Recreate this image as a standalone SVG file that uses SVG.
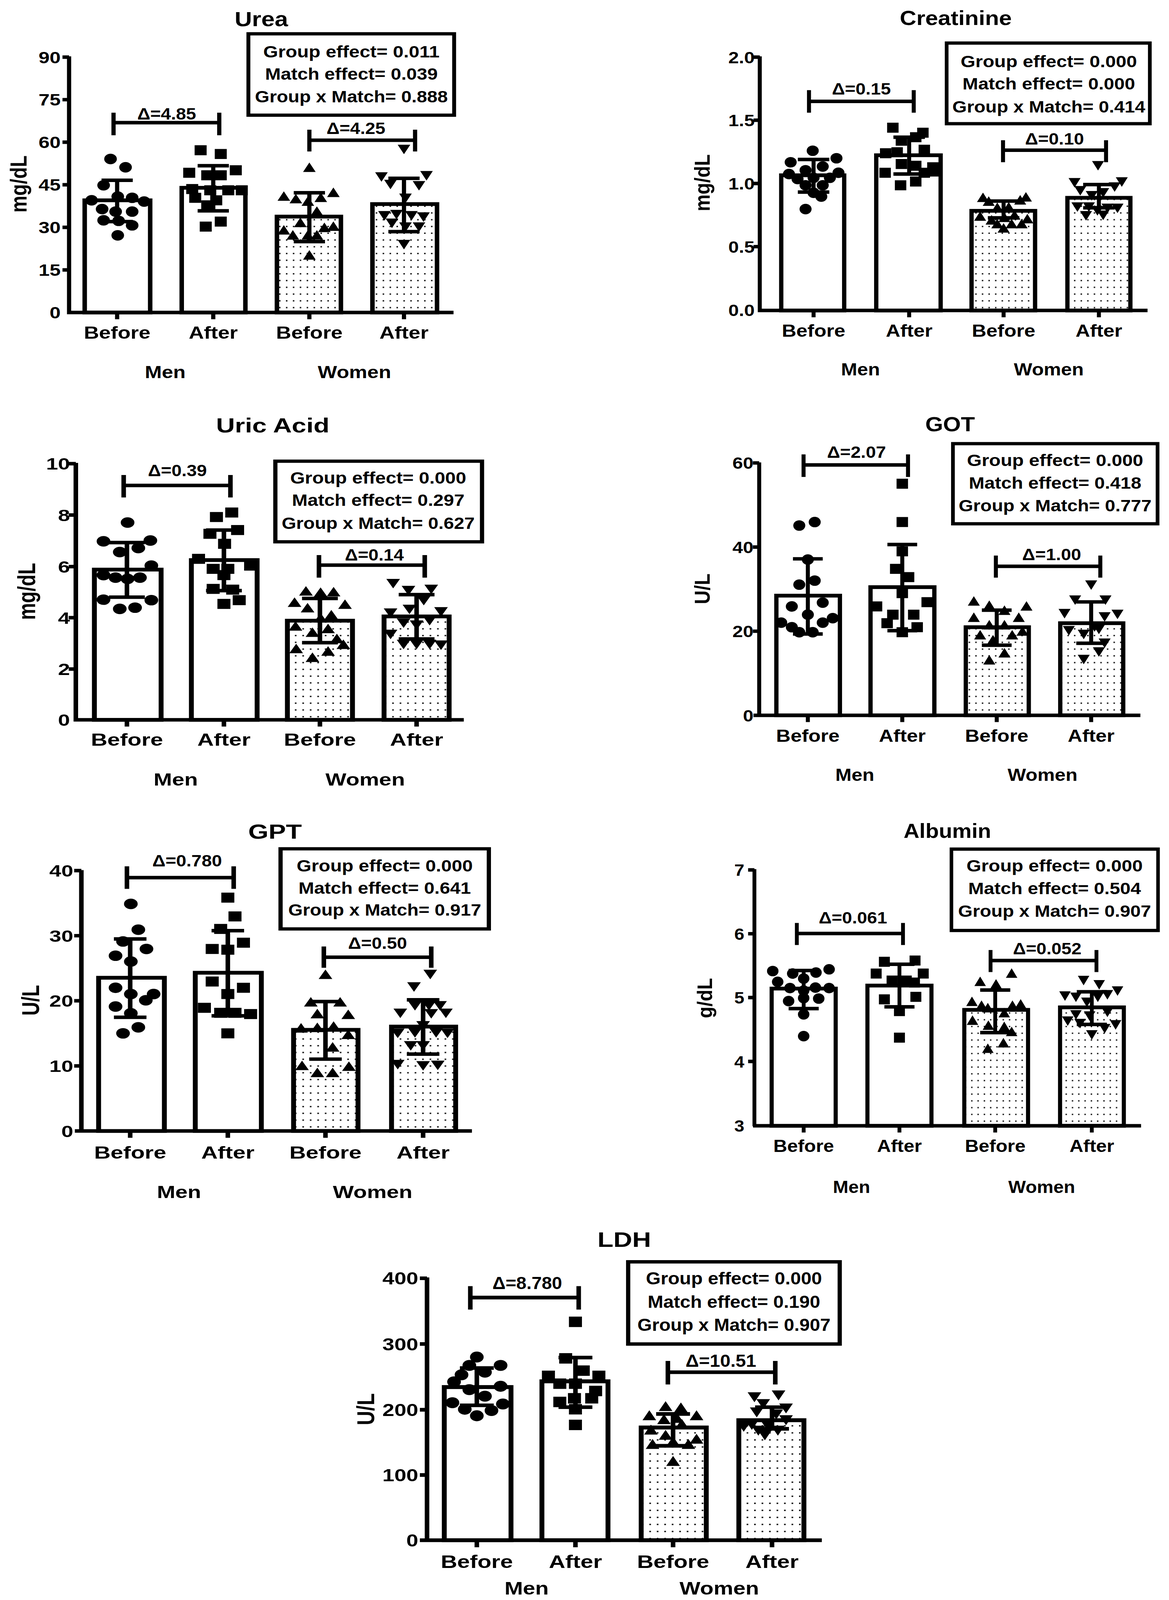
<svg xmlns="http://www.w3.org/2000/svg" width="2993" height="4142" viewBox="0 0 2993 4142">
<style>
.ax{stroke:#000;stroke-width:14;fill:none}
.bar{fill:#fff;stroke:#000;stroke-width:15}
.barw{fill:url(#dots);stroke:#000;stroke-width:15}
.er{stroke:#000;stroke-width:14;fill:none}
.box{fill:#fff;stroke:#000;stroke-width:13}
text{font-family:"Liberation Sans",Arial,sans-serif;font-weight:bold;fill:#000}
.ti{font-size:80px;text-anchor:middle}
.tk{font-size:66px;text-anchor:end}
.xl{font-size:70px;text-anchor:middle}
.gl{font-size:68px;text-anchor:middle}
.bx{font-size:66px;text-anchor:middle}
.dl{font-size:66px;text-anchor:middle}
.yl{font-size:76px;text-anchor:middle}
</style>
<defs>
<pattern id="dots" patternUnits="userSpaceOnUse" width="23" height="27"><rect x="9" y="11" width="5" height="5" fill="#000"/></pattern>
<circle id="c" r="21" fill="#000"/>
<rect id="s" x="-20" y="-20" width="40" height="40" fill="#000"/>
<path id="tu" d="M0,-21 L21,17 L-21,17Z" fill="#000"/>
<path id="td" d="M0,21 L21,-17 L-21,-17Z" fill="#000"/>
</defs>
<rect width="2993" height="4142" fill="#fff"/>

<g id="urea" transform="translate(0,0) scale(0.769,0.641)">
<text class="ti" x="870" y="105">Urea</text>
<path class="ax" d="M230,225V1248M223,1248H1510M208,228H230M208,398H230M208,568H230M208,738H230M208,908H230M208,1078H230M390,1248V1275M710,1248V1275M1030,1248V1275M1345,1248V1275"/>
<text class="tk" x="202" y="252">90</text><text class="tk" x="202" y="422">75</text><text class="tk" x="202" y="592">60</text><text class="tk" x="202" y="762">45</text><text class="tk" x="202" y="932">30</text><text class="tk" x="202" y="1102">15</text><text class="tk" x="202" y="1272">0</text>
<text class="yl" transform="translate(88,735) rotate(-90)">mg/dL</text>
<rect class="bar" x="282" y="800" width="218" height="448"/><rect class="bar" x="605" y="750" width="212" height="498"/><rect class="barw" x="922" y="865" width="213" height="383"/><rect class="barw" x="1240" y="815" width="215" height="433"/>
<g><use href="#c" x="368" y="635"/><use href="#c" x="418" y="668"/><use href="#c" x="345" y="740"/><use href="#c" x="392" y="785"/><use href="#c" x="305" y="800"/><use href="#c" x="440" y="790"/><use href="#c" x="480" y="805"/><use href="#c" x="340" y="835"/><use href="#c" x="385" y="845"/><use href="#c" x="440" y="845"/><use href="#c" x="345" y="880"/><use href="#c" x="395" y="882"/><use href="#c" x="440" y="900"/><use href="#c" x="392" y="940"/>
<use href="#s" x="668" y="600"/><use href="#s" x="735" y="615"/><use href="#s" x="630" y="690"/><use href="#s" x="690" y="700"/><use href="#s" x="735" y="700"/><use href="#s" x="785" y="680"/><use href="#s" x="640" y="755"/><use href="#s" x="700" y="760"/><use href="#s" x="760" y="760"/><use href="#s" x="805" y="760"/><use href="#s" x="650" y="790"/><use href="#s" x="720" y="800"/><use href="#s" x="690" y="820"/><use href="#s" x="735" y="885"/><use href="#s" x="685" y="905"/>
<use href="#tu" x="1030" y="670"/><use href="#tu" x="945" y="785"/><use href="#tu" x="985" y="795"/><use href="#tu" x="1025" y="805"/><use href="#tu" x="1068" y="790"/><use href="#tu" x="1110" y="770"/><use href="#tu" x="1055" y="845"/><use href="#tu" x="1000" y="890"/><use href="#tu" x="945" y="920"/><use href="#tu" x="975" y="940"/><use href="#tu" x="1025" y="940"/><use href="#tu" x="1080" y="910"/><use href="#tu" x="1110" y="905"/><use href="#tu" x="1055" y="940"/><use href="#tu" x="1030" y="1020"/>
<use href="#td" x="1345" y="595"/><use href="#td" x="1270" y="705"/><use href="#td" x="1420" y="700"/><use href="#td" x="1300" y="735"/><use href="#td" x="1395" y="740"/><use href="#td" x="1350" y="790"/><use href="#td" x="1280" y="860"/><use href="#td" x="1320" y="855"/><use href="#td" x="1370" y="860"/><use href="#td" x="1410" y="865"/><use href="#td" x="1305" y="890"/><use href="#td" x="1350" y="905"/><use href="#td" x="1395" y="905"/><use href="#td" x="1345" y="975"/></g>
<path class="er" d="M390,720V885M338,720H442M338,885H442M710,662V842M658,662H762M658,842H762M1030,770V965M978,770H1082M978,965H1082M1345,712V925M1293,712H1397M1293,925H1397"/>
<path class="er" d="M378,490H730M378,450V540M730,450V540M1030,560H1382M1030,518V605M1382,518V605"/>
<text class="dl" x="555" y="478" textLength="196" lengthAdjust="spacingAndGlyphs">Δ=4.85</text><text class="dl" x="1185" y="535" textLength="196" lengthAdjust="spacingAndGlyphs">Δ=4.25</text>
<rect class="box" x="827" y="135" width="685" height="325"/>
<text class="bx" x="1170" y="230" textLength="587" lengthAdjust="spacingAndGlyphs">Group effect= 0.011</text><text class="bx" x="1170" y="318" textLength="575" lengthAdjust="spacingAndGlyphs">Match effect= 0.039</text><text class="bx" x="1170" y="408" textLength="642" lengthAdjust="spacingAndGlyphs">Group x Match= 0.888</text>
<text class="xl" x="390" y="1352">Before</text><text class="xl" x="710" y="1352">After</text><text class="xl" x="1030" y="1352">Before</text><text class="xl" x="1345" y="1352">After</text>
<text class="gl" x="550" y="1510">Men</text><text class="gl" x="1180" y="1510">Women</text>
</g>

<g id="creatinine" transform="translate(1850,0) scale(0.7327,0.641)">
<text class="ti" x="815" y="100">Creatinine</text>
<path class="ax" d="M130,225V1240M123,1240H1485M108,228H130M108,480H130M108,733H130M108,985H130M318,1240V1267M652,1240V1267M982,1240V1267M1315,1240V1267"/>
<text class="tk" x="112" y="252">2.0</text><text class="tk" x="112" y="504">1.5</text><text class="tk" x="112" y="757">1.0</text><text class="tk" x="112" y="1009">0.5</text><text class="tk" x="112" y="1262">0.0</text>
<text class="yl" transform="translate(-45,730) rotate(-90)">mg/dL</text>
<rect class="bar" x="205" y="700" width="220" height="540"/><rect class="bar" x="537" y="620" width="225" height="620"/><rect class="barw" x="870" y="842" width="222" height="398"/><rect class="barw" x="1205" y="790" width="220" height="450"/>
<g><use href="#c" x="315" y="602"/><use href="#c" x="238" y="648"/><use href="#c" x="290" y="680"/><use href="#c" x="350" y="665"/><use href="#c" x="398" y="632"/><use href="#c" x="232" y="695"/><use href="#c" x="262" y="715"/><use href="#c" x="318" y="710"/><use href="#c" x="375" y="710"/><use href="#c" x="405" y="690"/><use href="#c" x="290" y="740"/><use href="#c" x="350" y="740"/><use href="#c" x="318" y="770"/><use href="#c" x="345" y="785"/><use href="#c" x="290" y="835"/>
<use href="#s" x="595" y="510"/><use href="#s" x="700" y="530"/><use href="#s" x="625" y="562"/><use href="#s" x="675" y="548"/><use href="#s" x="570" y="612"/><use href="#s" x="610" y="608"/><use href="#s" x="705" y="598"/><use href="#s" x="625" y="655"/><use href="#s" x="675" y="662"/><use href="#s" x="735" y="668"/><use href="#s" x="568" y="690"/><use href="#s" x="705" y="690"/><use href="#s" x="735" y="685"/><use href="#s" x="675" y="725"/><use href="#s" x="622" y="740"/>
<use href="#tu" x="910" y="790"/><use href="#tu" x="1060" y="788"/><use href="#tu" x="930" y="805"/><use href="#tu" x="1040" y="800"/><use href="#tu" x="960" y="830"/><use href="#tu" x="1000" y="828"/><use href="#tu" x="900" y="865"/><use href="#tu" x="940" y="880"/><use href="#tu" x="985" y="870"/><use href="#tu" x="1020" y="860"/><use href="#tu" x="1065" y="875"/><use href="#tu" x="960" y="895"/><use href="#tu" x="1010" y="895"/><use href="#tu" x="1045" y="895"/><use href="#tu" x="982" y="912"/>
<use href="#td" x="1312" y="660"/><use href="#td" x="1230" y="728"/><use href="#td" x="1395" y="725"/><use href="#td" x="1250" y="760"/><use href="#td" x="1370" y="745"/><use href="#td" x="1330" y="768"/><use href="#td" x="1290" y="780"/><use href="#td" x="1240" y="825"/><use href="#td" x="1280" y="825"/><use href="#td" x="1310" y="840"/><use href="#td" x="1345" y="830"/><use href="#td" x="1380" y="830"/><use href="#td" x="1270" y="860"/><use href="#td" x="1330" y="858"/></g>
<path class="er" d="M318,637V767M263,637H373M263,767H373M652,548V695M597,548H707M597,695H707M982,803V870M927,803H1037M927,870H1037M1315,737V830M1260,737H1370M1260,830H1370"/>
<path class="er" d="M302,405H668M302,360V450M668,360V450M980,600H1340M980,560V648M1340,560V648"/>
<text class="dl" x="485" y="378" textLength="206" lengthAdjust="spacingAndGlyphs">Δ=0.15</text><text class="dl" x="1160" y="578" textLength="206" lengthAdjust="spacingAndGlyphs">Δ=0.10</text>
<rect class="box" x="783" y="172" width="710" height="322"/>
<text class="bx" x="1140" y="268" textLength="616" lengthAdjust="spacingAndGlyphs">Group effect= 0.000</text><text class="bx" x="1140" y="358" textLength="603" lengthAdjust="spacingAndGlyphs">Match effect= 0.000</text><text class="bx" x="1140" y="450" textLength="674" lengthAdjust="spacingAndGlyphs">Group x Match= 0.414</text>
<text class="xl" x="318" y="1345">Before</text><text class="xl" x="652" y="1345">After</text><text class="xl" x="982" y="1345">Before</text><text class="xl" x="1315" y="1345">After</text>
<text class="gl" x="482" y="1500">Men</text><text class="gl" x="1140" y="1500">Women</text>
</g>

<g id="uric-acid" transform="translate(0,1030) scale(0.8333,0.641)">
<text class="ti" x="838" y="120">Uric Acid</text>
<path class="ax" d="M233,242V1270M226,1268H1425M211,245H233M211,450H233M211,656H233M211,860H233M211,1065H233M390,1268V1295M688,1268V1295M983,1268V1295M1280,1268V1295"/>
<text class="tk" x="215" y="269">10</text><text class="tk" x="215" y="474">8</text><text class="tk" x="215" y="680">6</text><text class="tk" x="215" y="884">4</text><text class="tk" x="215" y="1089">2</text><text class="tk" x="215" y="1292">0</text>
<text class="yl" transform="translate(108,755) rotate(-90)">mg/dL</text>
<rect class="bar" x="290" y="668" width="205" height="600"/><rect class="bar" x="588" y="630" width="202" height="638"/><rect class="barw" x="883" y="872" width="200" height="396"/><rect class="barw" x="1180" y="855" width="200" height="413"/>
<g><use href="#c" x="392" y="480"/><use href="#c" x="318" y="555"/><use href="#c" x="462" y="552"/><use href="#c" x="368" y="598"/><use href="#c" x="425" y="582"/><use href="#c" x="465" y="652"/><use href="#c" x="318" y="690"/><use href="#c" x="355" y="700"/><use href="#c" x="392" y="705"/><use href="#c" x="430" y="700"/><use href="#c" x="318" y="788"/><use href="#c" x="465" y="790"/><use href="#c" x="368" y="825"/><use href="#c" x="415" y="820"/>
<use href="#s" x="712" y="440"/><use href="#s" x="665" y="458"/><use href="#s" x="730" y="510"/><use href="#s" x="645" y="525"/><use href="#s" x="690" y="565"/><use href="#s" x="610" y="625"/><use href="#s" x="655" y="665"/><use href="#s" x="700" y="665"/><use href="#s" x="770" y="652"/><use href="#s" x="688" y="690"/><use href="#s" x="655" y="745"/><use href="#s" x="715" y="748"/><use href="#s" x="735" y="790"/><use href="#s" x="688" y="805"/>
<use href="#tu" x="940" y="755"/><use href="#tu" x="985" y="760"/><use href="#tu" x="1025" y="758"/><use href="#tu" x="905" y="800"/><use href="#tu" x="1060" y="808"/><use href="#tu" x="945" y="822"/><use href="#tu" x="1018" y="850"/><use href="#tu" x="985" y="862"/><use href="#tu" x="908" y="895"/><use href="#tu" x="1008" y="905"/><use href="#tu" x="960" y="920"/><use href="#tu" x="1035" y="945"/><use href="#tu" x="1055" y="968"/><use href="#tu" x="910" y="985"/><use href="#tu" x="1008" y="995"/><use href="#tu" x="960" y="1020"/>
<use href="#td" x="1208" y="722"/><use href="#td" x="1255" y="750"/><use href="#td" x="1325" y="745"/><use href="#td" x="1302" y="790"/><use href="#td" x="1258" y="825"/><use href="#td" x="1200" y="840"/><use href="#td" x="1355" y="835"/><use href="#td" x="1240" y="880"/><use href="#td" x="1320" y="870"/><use href="#td" x="1280" y="888"/><use href="#td" x="1200" y="925"/><use href="#td" x="1240" y="965"/><use href="#td" x="1280" y="965"/><use href="#td" x="1320" y="965"/><use href="#td" x="1355" y="968"/></g>
<path class="er" d="M390,560V778M335,560H445M335,778H445M688,510V752M633,510H743M633,752H743M983,783V960M928,783H1038M928,960H1038M1280,768V945M1225,768H1335M1225,945H1335"/>
<path class="er" d="M380,332H708M380,290V380M708,290V380M980,650H1305M980,610V700M1305,610V700"/>
<text class="dl" x="545" y="295" textLength="181" lengthAdjust="spacingAndGlyphs">Δ=0.39</text><text class="dl" x="1150" y="632" textLength="181" lengthAdjust="spacingAndGlyphs">Δ=0.14</text>
<rect class="box" x="846" y="235" width="635" height="322"/>
<text class="bx" x="1162" y="325" textLength="541" lengthAdjust="spacingAndGlyphs">Group effect= 0.000</text><text class="bx" x="1162" y="413" textLength="530" lengthAdjust="spacingAndGlyphs">Match effect= 0.297</text><text class="bx" x="1162" y="505" textLength="593" lengthAdjust="spacingAndGlyphs">Group x Match= 0.627</text>
<text class="xl" x="390" y="1372">Before</text><text class="xl" x="688" y="1372">After</text><text class="xl" x="983" y="1372">Before</text><text class="xl" x="1280" y="1372">After</text>
<text class="gl" x="540" y="1530">Men</text><text class="gl" x="1122" y="1530">Women</text>
</g>

<g id="got" transform="translate(1850,1030) scale(0.7327,0.641)">
<text class="ti" x="795" y="115">GOT</text>
<path class="ax" d="M128,240V1250M108,1250H1460M106,242H128M106,578H128M106,914H128M298,1250V1277M628,1250V1277M958,1250V1277M1288,1250V1277"/>
<text class="tk" x="108" y="266">60</text><text class="tk" x="108" y="602">40</text><text class="tk" x="108" y="938">20</text><text class="tk" x="108" y="1274">0</text>
<text class="yl" transform="translate(-45,745) rotate(-90)">U/L</text>
<rect class="bar" x="188" y="772" width="222" height="478"/><rect class="bar" x="517" y="738" width="223" height="512"/><rect class="barw" x="850" y="898" width="220" height="352"/><rect class="barw" x="1180" y="882" width="220" height="368"/>
<g><use href="#c" x="268" y="492"/><use href="#c" x="322" y="478"/><use href="#c" x="298" y="628"/><use href="#c" x="268" y="728"/><use href="#c" x="322" y="712"/><use href="#c" x="242" y="815"/><use href="#c" x="350" y="800"/><use href="#c" x="298" y="848"/><use href="#c" x="205" y="880"/><use href="#c" x="385" y="862"/><use href="#c" x="242" y="898"/><use href="#c" x="350" y="880"/><use href="#c" x="268" y="918"/><use href="#c" x="315" y="918"/>
<use href="#s" x="628" y="325"/><use href="#s" x="628" y="478"/><use href="#s" x="628" y="595"/><use href="#s" x="605" y="665"/><use href="#s" x="650" y="698"/><use href="#s" x="628" y="762"/><use href="#s" x="538" y="815"/><use href="#s" x="715" y="798"/><use href="#s" x="595" y="848"/><use href="#s" x="668" y="848"/><use href="#s" x="575" y="882"/><use href="#s" x="680" y="898"/><use href="#s" x="628" y="918"/>
<use href="#tu" x="878" y="795"/><use href="#tu" x="932" y="812"/><use href="#tu" x="985" y="832"/><use href="#tu" x="1062" y="815"/><use href="#tu" x="878" y="860"/><use href="#tu" x="1035" y="860"/><use href="#tu" x="932" y="890"/><use href="#tu" x="985" y="890"/><use href="#tu" x="900" y="930"/><use href="#tu" x="1012" y="930"/><use href="#tu" x="1048" y="915"/><use href="#tu" x="945" y="950"/><use href="#tu" x="985" y="1002"/><use href="#tu" x="932" y="1030"/>
<use href="#td" x="1288" y="728"/><use href="#td" x="1232" y="788"/><use href="#td" x="1338" y="788"/><use href="#td" x="1195" y="842"/><use href="#td" x="1380" y="845"/><use href="#td" x="1335" y="855"/><use href="#td" x="1210" y="910"/><use href="#td" x="1315" y="905"/><use href="#td" x="1262" y="925"/><use href="#td" x="1300" y="895"/><use href="#td" x="1335" y="960"/><use href="#td" x="1315" y="995"/><use href="#td" x="1262" y="1025"/></g>
<path class="er" d="M298,625V925M246,625H350M246,925H350M628,568V912M576,568H680M576,912H680M958,830V970M906,830H1010M906,970H1010M1288,797V962M1236,797H1340M1236,962H1340"/>
<path class="er" d="M283,250H648M283,208V298M648,208V298M955,655H1320M955,612V700M1320,612V700"/>
<text class="dl" x="468" y="222" textLength="206" lengthAdjust="spacingAndGlyphs">Δ=2.07</text><text class="dl" x="1150" y="630" textLength="206" lengthAdjust="spacingAndGlyphs">Δ=1.00</text>
<rect class="box" x="805" y="165" width="715" height="320"/>
<text class="bx" x="1162" y="255" textLength="616" lengthAdjust="spacingAndGlyphs">Group effect= 0.000</text><text class="bx" x="1162" y="345" textLength="603" lengthAdjust="spacingAndGlyphs">Match effect= 0.418</text><text class="bx" x="1162" y="435" textLength="674" lengthAdjust="spacingAndGlyphs">Group x Match= 0.777</text>
<text class="xl" x="298" y="1355">Before</text><text class="xl" x="628" y="1355">After</text><text class="xl" x="958" y="1355">Before</text><text class="xl" x="1288" y="1355">After</text>
<text class="gl" x="462" y="1512">Men</text><text class="gl" x="1118" y="1512">Women</text>
</g>

<g id="gpt" transform="translate(0,2080) scale(0.8333,0.641)">
<text class="ti" x="845" y="105">GPT</text>
<path class="ax" d="M250,230V1272M230,1272H1450M228,232H250M228,492H250M228,752H250M228,1012H250M400,1272V1299M700,1272V1299M1000,1272V1299M1300,1272V1299"/>
<text class="tk" x="225" y="256">40</text><text class="tk" x="225" y="516">30</text><text class="tk" x="225" y="776">20</text><text class="tk" x="225" y="1036">10</text><text class="tk" x="225" y="1296">0</text>
<text class="yl" transform="translate(120,750) rotate(-90)">U/L</text>
<rect class="bar" x="303" y="660" width="202" height="612"/><rect class="bar" x="600" y="640" width="203" height="632"/><rect class="barw" x="902" y="868" width="198" height="404"/><rect class="barw" x="1203" y="855" width="197" height="417"/>
<g><use href="#c" x="402" y="365"/><use href="#c" x="425" y="468"/><use href="#c" x="378" y="515"/><use href="#c" x="450" y="545"/><use href="#c" x="355" y="572"/><use href="#c" x="402" y="595"/><use href="#c" x="355" y="700"/><use href="#c" x="402" y="725"/><use href="#c" x="448" y="750"/><use href="#c" x="472" y="725"/><use href="#c" x="355" y="775"/><use href="#c" x="402" y="802"/><use href="#c" x="425" y="858"/><use href="#c" x="378" y="882"/>
<use href="#s" x="700" y="340"/><use href="#s" x="722" y="415"/><use href="#s" x="678" y="465"/><use href="#s" x="652" y="545"/><use href="#s" x="748" y="520"/><use href="#s" x="700" y="548"/><use href="#s" x="652" y="675"/><use href="#s" x="748" y="700"/><use href="#s" x="700" y="725"/><use href="#s" x="628" y="780"/><use href="#s" x="678" y="800"/><use href="#s" x="722" y="800"/><use href="#s" x="770" y="805"/><use href="#s" x="700" y="882"/>
<use href="#tu" x="1000" y="648"/><use href="#tu" x="955" y="758"/><use href="#tu" x="1045" y="758"/><use href="#tu" x="975" y="805"/><use href="#tu" x="1070" y="808"/><use href="#tu" x="925" y="862"/><use href="#tu" x="975" y="860"/><use href="#tu" x="1025" y="855"/><use href="#tu" x="1070" y="888"/><use href="#tu" x="1022" y="938"/><use href="#tu" x="928" y="1012"/><use href="#tu" x="1072" y="1015"/><use href="#tu" x="975" y="1040"/><use href="#tu" x="1022" y="1040"/>
<use href="#td" x="1322" y="645"/><use href="#td" x="1272" y="695"/><use href="#td" x="1230" y="800"/><use href="#td" x="1275" y="770"/><use href="#td" x="1318" y="770"/><use href="#td" x="1352" y="770"/><use href="#td" x="1370" y="800"/><use href="#td" x="1325" y="802"/><use href="#td" x="1300" y="850"/><use href="#td" x="1222" y="880"/><use href="#td" x="1275" y="878"/><use href="#td" x="1340" y="878"/><use href="#td" x="1375" y="880"/><use href="#td" x="1262" y="930"/><use href="#td" x="1300" y="930"/><use href="#td" x="1222" y="1005"/><use href="#td" x="1300" y="1010"/><use href="#td" x="1345" y="1008"/></g>
<path class="er" d="M400,505V818M350,505H450M350,818H450M700,472V812M650,472H750M650,812H750M1000,755V985M950,755H1050M950,985H1050M1300,748V965M1250,748H1350M1250,965H1350"/>
<path class="er" d="M390,260H718M390,215V305M718,215V305M995,578H1325M995,535V620M1325,535V620"/>
<text class="dl" x="575" y="215" textLength="214" lengthAdjust="spacingAndGlyphs">Δ=0.780</text><text class="dl" x="1160" y="545" textLength="181" lengthAdjust="spacingAndGlyphs">Δ=0.50</text>
<rect class="box" x="862" y="145" width="640" height="320"/>
<text class="bx" x="1182" y="235" textLength="541" lengthAdjust="spacingAndGlyphs">Group effect= 0.000</text><text class="bx" x="1182" y="325" textLength="530" lengthAdjust="spacingAndGlyphs">Match effect= 0.641</text><text class="bx" x="1182" y="412" textLength="593" lengthAdjust="spacingAndGlyphs">Group x Match= 0.917</text>
<text class="xl" x="400" y="1382">Before</text><text class="xl" x="700" y="1382">After</text><text class="xl" x="1000" y="1382">Before</text><text class="xl" x="1300" y="1382">After</text>
<text class="gl" x="550" y="1540">Men</text><text class="gl" x="1145" y="1540">Women</text>
</g>

<g id="albumin" transform="translate(1900,2100) scale(0.7006,0.641)">
<text class="ti" x="750" y="70">Albumin</text>
<path class="ax" d="M45,195V1222M40,1220H1458M22,198H45M22,453H45M22,708H45M22,963H45M225,1220V1247M575,1220V1247M925,1220V1247M1278,1220V1247"/>
<text class="tk" x="8" y="222">7</text><text class="tk" x="8" y="477">6</text><text class="tk" x="8" y="732">5</text><text class="tk" x="8" y="987">4</text><text class="tk" x="8" y="1244">3</text>
<text class="yl" transform="translate(-110,710) rotate(-90)">g/dL</text>
<rect class="bar" x="108" y="672" width="234" height="548"/><rect class="bar" x="458" y="660" width="234" height="560"/><rect class="barw" x="812" y="757" width="233" height="463"/><rect class="barw" x="1162" y="747" width="233" height="473"/>
<g><use href="#c" x="112" y="602"/><use href="#c" x="318" y="595"/><use href="#c" x="185" y="612"/><use href="#c" x="270" y="608"/><use href="#c" x="130" y="645"/><use href="#c" x="225" y="632"/><use href="#c" x="175" y="670"/><use href="#c" x="225" y="680"/><use href="#c" x="268" y="668"/><use href="#c" x="318" y="670"/><use href="#c" x="170" y="722"/><use href="#c" x="225" y="710"/><use href="#c" x="280" y="712"/><use href="#c" x="225" y="775"/><use href="#c" x="225" y="862"/>
<use href="#s" x="520" y="565"/><use href="#s" x="632" y="560"/><use href="#s" x="490" y="612"/><use href="#s" x="662" y="612"/><use href="#s" x="548" y="640"/><use href="#s" x="600" y="640"/><use href="#s" x="630" y="648"/><use href="#s" x="520" y="715"/><use href="#s" x="635" y="705"/><use href="#s" x="575" y="762"/><use href="#s" x="575" y="868"/>
<use href="#tu" x="985" y="612"/><use href="#tu" x="870" y="645"/><use href="#tu" x="928" y="655"/><use href="#tu" x="840" y="725"/><use href="#tu" x="875" y="740"/><use href="#tu" x="898" y="750"/><use href="#tu" x="1018" y="735"/><use href="#tu" x="988" y="740"/><use href="#tu" x="958" y="770"/><use href="#tu" x="842" y="800"/><use href="#tu" x="900" y="820"/><use href="#tu" x="958" y="825"/><use href="#tu" x="985" y="845"/><use href="#tu" x="898" y="912"/><use href="#tu" x="955" y="890"/>
<use href="#td" x="1248" y="638"/><use href="#td" x="1305" y="655"/><use href="#td" x="1372" y="680"/><use href="#td" x="1180" y="700"/><use href="#td" x="1220" y="705"/><use href="#td" x="1300" y="705"/><use href="#td" x="1335" y="695"/><use href="#td" x="1260" y="725"/><use href="#td" x="1220" y="775"/><use href="#td" x="1270" y="780"/><use href="#td" x="1335" y="765"/><use href="#td" x="1190" y="800"/><use href="#td" x="1235" y="810"/><use href="#td" x="1365" y="815"/><use href="#td" x="1325" y="830"/><use href="#td" x="1278" y="855"/></g>
<path class="er" d="M225,600V752M170,600H280M170,752H280M575,575V745M520,575H630M520,745H630M925,678V848M870,678H980M870,848H980M1278,685V815M1223,685H1333M1223,815H1333"/>
<path class="er" d="M200,452H588M200,410V498M588,410V498M908,560H1295M908,518V606M1295,518V606"/>
<text class="dl" x="405" y="412" textLength="250" lengthAdjust="spacingAndGlyphs">Δ=0.061</text><text class="dl" x="1115" y="535" textLength="250" lengthAdjust="spacingAndGlyphs">Δ=0.052</text>
<rect class="box" x="765" y="115" width="755" height="325"/>
<text class="bx" x="1142" y="205" textLength="644" lengthAdjust="spacingAndGlyphs">Group effect= 0.000</text><text class="bx" x="1142" y="295" textLength="631" lengthAdjust="spacingAndGlyphs">Match effect= 0.504</text><text class="bx" x="1142" y="385" textLength="705" lengthAdjust="spacingAndGlyphs">Group x Match= 0.907</text>
<text class="xl" x="225" y="1325">Before</text><text class="xl" x="575" y="1325">After</text><text class="xl" x="925" y="1325">Before</text><text class="xl" x="1278" y="1325">After</text>
<text class="gl" x="400" y="1488">Men</text><text class="gl" x="1095" y="1488">Women</text>
</g>

<g id="ldh" transform="translate(850,3100) scale(0.8333,0.668)">
<text class="ti" x="898" y="138">LDH</text>
<path class="ax" d="M292,255V1262M270,1262H1505M270,258H292M270,510H292M270,762H292M270,1012H292M445,1262V1289M748,1262V1289M1048,1262V1289M1352,1262V1289"/>
<text class="tk" x="265" y="282">400</text><text class="tk" x="265" y="534">300</text><text class="tk" x="265" y="786">200</text><text class="tk" x="265" y="1036">100</text><text class="tk" x="265" y="1286">0</text>
<text class="yl" transform="translate(130,760) rotate(-90)">U/L</text>
<rect class="bar" x="345" y="675" width="205" height="587"/><rect class="bar" x="645" y="653" width="203" height="609"/><rect class="barw" x="950" y="830" width="200" height="432"/><rect class="barw" x="1250" y="802" width="200" height="460"/>
<g><use href="#c" x="445" y="560"/><use href="#c" x="422" y="592"/><use href="#c" x="518" y="592"/><use href="#c" x="470" y="618"/><use href="#c" x="398" y="628"/><use href="#c" x="375" y="655"/><use href="#c" x="518" y="672"/><use href="#c" x="422" y="685"/><use href="#c" x="470" y="710"/><use href="#c" x="370" y="735"/><use href="#c" x="525" y="740"/><use href="#c" x="408" y="760"/><use href="#c" x="490" y="765"/><use href="#c" x="445" y="785"/>
<use href="#s" x="748" y="425"/><use href="#s" x="718" y="565"/><use href="#s" x="772" y="612"/><use href="#s" x="665" y="632"/><use href="#s" x="820" y="632"/><use href="#s" x="700" y="662"/><use href="#s" x="748" y="662"/><use href="#s" x="810" y="690"/><use href="#s" x="700" y="732"/><use href="#s" x="745" y="718"/><use href="#s" x="798" y="718"/><use href="#s" x="748" y="760"/><use href="#s" x="748" y="820"/>
<use href="#tu" x="1025" y="750"/><use href="#tu" x="1072" y="755"/><use href="#tu" x="975" y="785"/><use href="#tu" x="1120" y="785"/><use href="#tu" x="1020" y="800"/><use href="#tu" x="1060" y="795"/><use href="#tu" x="1075" y="818"/><use href="#tu" x="980" y="840"/><use href="#tu" x="1025" y="860"/><use href="#tu" x="1120" y="875"/><use href="#tu" x="985" y="895"/><use href="#tu" x="1048" y="885"/><use href="#tu" x="1095" y="895"/><use href="#tu" x="1048" y="960"/>
<use href="#td" x="1372" y="705"/><use href="#td" x="1298" y="712"/><use href="#td" x="1325" y="738"/><use href="#td" x="1395" y="755"/><use href="#td" x="1305" y="770"/><use href="#td" x="1365" y="778"/><use href="#td" x="1290" y="818"/><use href="#td" x="1338" y="820"/><use href="#td" x="1395" y="800"/><use href="#td" x="1265" y="825"/><use href="#td" x="1310" y="840"/><use href="#td" x="1370" y="840"/><use href="#td" x="1330" y="858"/></g>
<path class="er" d="M445,602V745M393,602H497M393,745H497M748,562V752M696,562H800M696,752H800M1048,778V900M996,778H1100M996,900H1100M1352,752V835M1300,752H1404M1300,835H1404"/>
<path class="er" d="M425,332H758M425,288V378M758,288V378M1032,618H1362M1032,575V665M1362,575V665"/>
<text class="dl" x="600" y="300" textLength="214" lengthAdjust="spacingAndGlyphs">Δ=8.780</text><text class="dl" x="1195" y="598" textLength="217" lengthAdjust="spacingAndGlyphs">Δ=10.51</text>
<rect class="box" x="910" y="195" width="650" height="315"/>
<text class="bx" x="1235" y="282" textLength="541" lengthAdjust="spacingAndGlyphs">Group effect= 0.000</text><text class="bx" x="1235" y="372" textLength="530" lengthAdjust="spacingAndGlyphs">Match effect= 0.190</text><text class="bx" x="1235" y="460" textLength="593" lengthAdjust="spacingAndGlyphs">Group x Match= 0.907</text>
<text class="xl" x="445" y="1368">Before</text><text class="xl" x="748" y="1368">After</text><text class="xl" x="1048" y="1368">Before</text><text class="xl" x="1352" y="1368">After</text>
<text class="gl" x="598" y="1470">Men</text><text class="gl" x="1190" y="1470">Women</text>
</g>
</svg>
